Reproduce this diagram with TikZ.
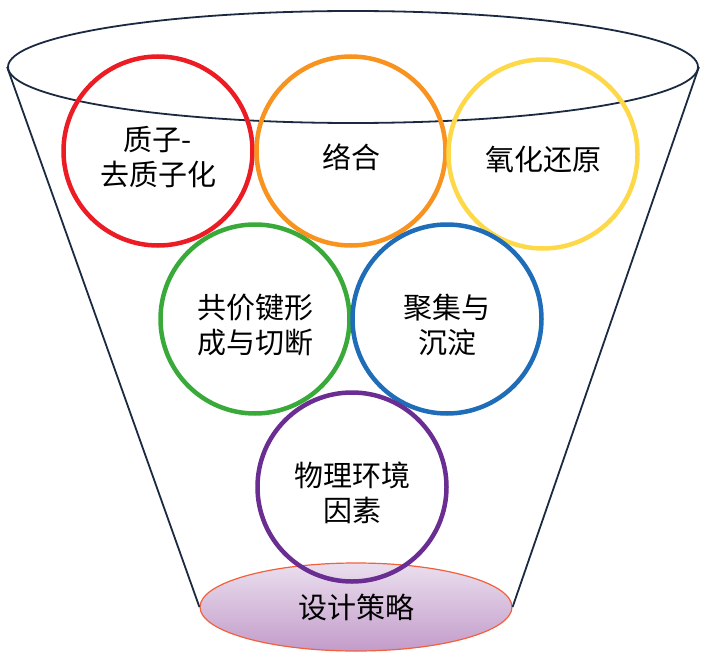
\documentclass[tikz,border=0pt]{standalone}
\usepackage{fontspec}
\setmainfont{Noto Sans CJK SC}
\usetikzlibrary{shapes.geometric}
\definecolor{azulfunil}{HTML}{1B2A41}
\definecolor{laranjabase}{HTML}{F2603C}
\definecolor{lilasclaro}{HTML}{EADFEE}
\definecolor{lilasesc}{HTML}{C39CCA}
\definecolor{vermelho}{HTML}{EC1C24}
\definecolor{laranja}{HTML}{F7931E}
\definecolor{amarelo}{HTML}{FDD94A}
\definecolor{verde}{HTML}{39AA3A}
\definecolor{azul}{HTML}{1F6DB8}
\definecolor{roxo}{HTML}{6A2D91}

\begin{document}
\begin{tikzpicture}[x=1pt, y=-1pt,
  borda/.style={draw=azulfunil, line width=1.8pt},
  anel/.style={circle, line width=4.5pt, minimum size=189pt, inner sep=0pt},
  rotulo/.style={align=center, yshift=-6pt, font=\fontsize{29}{35}\selectfont},
  base/.style={ellipse, draw=laranjabase, line width=1.2pt,
               top color=lilasclaro, bottom color=lilasesc,
               minimum width=312pt, minimum height=88pt, inner sep=0pt,
               font=\fontsize{29}{35}\selectfont}
]
\useasboundingbox (0,0) rectangle (706,658);
\node[ellipse, borda, minimum width=690pt, minimum height=112pt, inner sep=0pt] (topo) at (353,67) {};
\node[base] (fundo) at (356,607) {设计策略};
\draw[borda] (topo.west) -- (fundo.west);
\draw[borda] (topo.east) -- (fundo.east);
% aneis
\node[anel, draw=vermelho]  (protao)    at (158,151) {};
\node[anel, draw=laranja]   (complexo)  at (351,151) {};
\node[anel, draw=amarelo]   (redox)     at (543,154) {};
\node[anel, draw=verde]     (covalente) at (255,319) {};
\node[anel, draw=azul]      (agregado)  at (447,319) {};
\node[anel, draw=roxo]      (fisico)    at (352,487) {};
% textos
\node[rotulo] (protao-t)    at (protao)    {质子-\\去质子化};
\node[rotulo] (complexo-t)  at (complexo)  {络合};
\node[rotulo] (redox-t)     at (redox)     {氧化还原};
\node[rotulo] (covalente-t) at (covalente) {共价键形\\成与切断};
\node[rotulo] (agregado-t)  at (agregado)  {聚集与\\沉淀};
\node[rotulo] (fisico-t)    at (fisico)    {物理环境\\因素};
\end{tikzpicture}
\end{document}
